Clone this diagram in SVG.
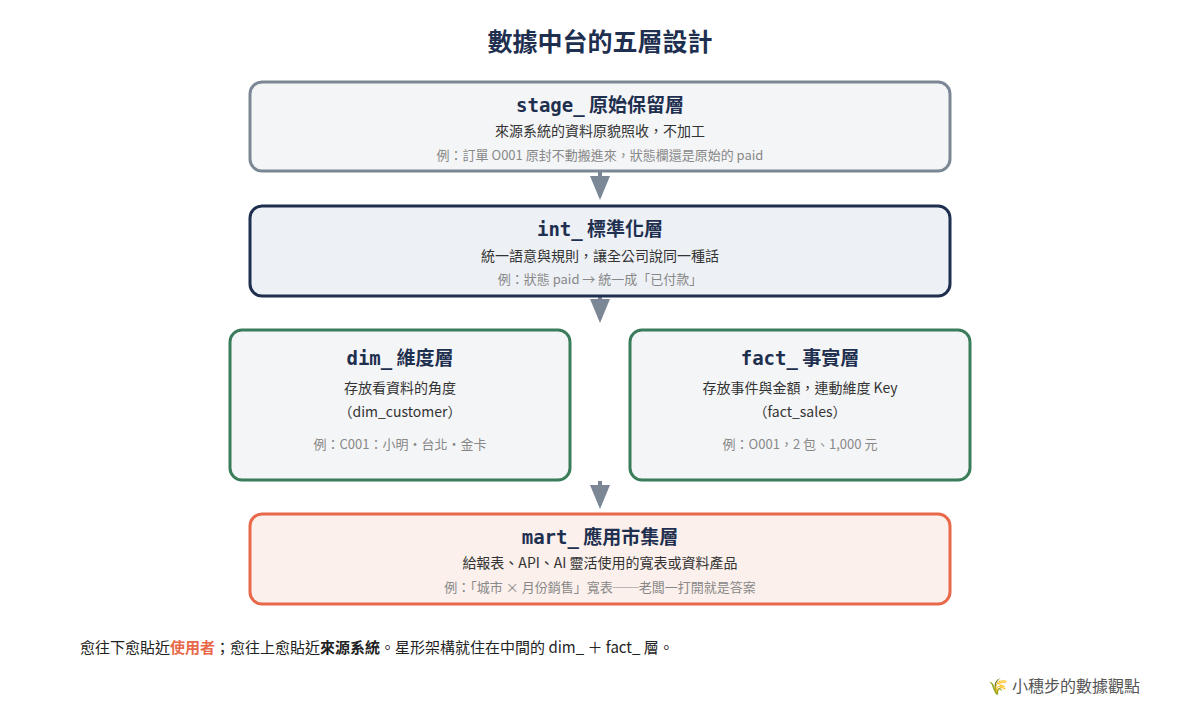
<svg xmlns="http://www.w3.org/2000/svg" width="1200" height="720" viewBox="0 0 1200 720">
<style>
text{font-family:"Noto Sans CJK TC","Noto Sans",sans-serif;text-anchor:middle}
.t{font-size:19px;font-weight:bold;fill:#1e2f4f}
.m{font-family:"DejaVu Sans Mono","Noto Sans CJK TC",monospace}
.d{font-size:14px;fill:#333}
.e{font-size:13px;fill:#888}
.box{stroke-width:3}
</style>
<defs><marker id="a" markerWidth="6" markerHeight="5" refX="5" refY="2.5" orient="auto"><path d="M0,0L6,2.5L0,5z" fill="#7b8794"/></marker></defs>
<rect width="1200" height="720" fill="#fff"/>
<text x="600" y="51" style="font-size:25px;font-weight:bold;fill:#1e2f4f">數據中台的五層設計</text>
<g id="connectors" stroke="#7b8794" stroke-width="4" fill="none">
<path d="M600 172V196" marker-end="url(#a)"/>
<path d="M600 297V319" marker-end="url(#a)"/>
<path d="M600 481V505" marker-end="url(#a)"/>
</g>
<g id="stage"><rect class="box" x="250" y="82" width="700" height="89" rx="12" fill="#f4f5f7" stroke="#7b8794"/>
<text x="600" y="112" class="t"><tspan class="m">stage_</tspan> 原始保留層</text>
<text x="600" y="136" class="d">來源系統的資料原貌照收，不加工</text>
<text x="600" y="160" class="e">例：訂單 O001 原封不動搬進來，狀態欄還是原始的 paid</text></g>
<g id="int"><rect class="box" x="250" y="206" width="700" height="90" rx="12" fill="#edf0f5" stroke="#1e2f4f"/>
<text x="600" y="236" class="t"><tspan class="m">int_</tspan> 標準化層</text>
<text x="600" y="261" class="d">統一語意與規則，讓全公司說同一種話</text>
<text x="600" y="284" class="e">例：狀態 paid → 統一成「已付款」</text></g>
<g id="dim"><rect class="box" x="230" y="330" width="340" height="150" rx="12" fill="#f4f5f7" stroke="#3a7d5a"/>
<text x="400" y="365" class="t"><tspan class="m">dim_</tspan> 維度層</text>
<text x="400" y="393" class="d">存放看資料的角度</text>
<text x="400" y="417" class="d">（dim_customer）</text>
<text x="400" y="449" class="e">例：C001：小明・台北・金卡</text></g>
<g id="fact"><rect class="box" x="630" y="330" width="340" height="150" rx="12" fill="#f4f5f7" stroke="#3a7d5a"/>
<text x="800" y="365" class="t"><tspan class="m">fact_</tspan> 事實層</text>
<text x="800" y="393" class="d">存放事件與金額，連動維度 Key</text>
<text x="800" y="417" class="d">（fact_sales）</text>
<text x="800" y="449" class="e">例：O001，2 包、1,000 元</text></g>
<g id="mart"><rect class="box" x="250" y="514" width="700" height="90" rx="12" fill="#fbf0ec" stroke="#e8694a"/>
<text x="600" y="544" class="t"><tspan class="m">mart_</tspan> 應用市集層</text>
<text x="600" y="568" class="d">給報表、API、AI 靈活使用的寬表或資料產品</text>
<text x="600" y="592" class="e">例：「城市 × 月份銷售」寬表──老闆一打開就是答案</text></g>
<text x="80" y="653" style="font-size:15px;fill:#222;text-anchor:start">愈往下愈貼近<tspan fill="#e8694a" font-weight="bold">使用者</tspan>；愈往上愈貼近<tspan font-weight="bold">來源系統</tspan>。星形架構就住在中間的 dim_ ＋ fact_ 層。</text>
<text x="1140" y="692" style="font-size:16px;fill:#555;text-anchor:end">🌾 小穗步的數據觀點</text>
</svg>
